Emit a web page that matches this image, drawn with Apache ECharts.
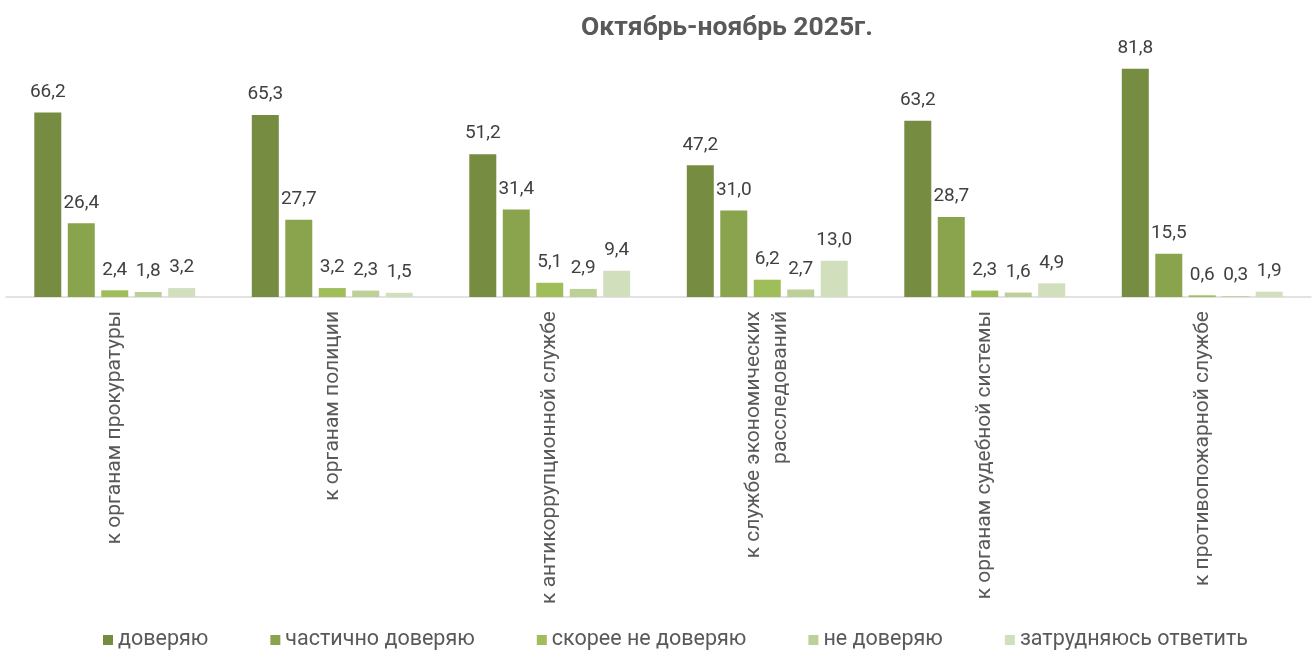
<!DOCTYPE html>
<html>
<head>
<meta charset="utf-8">
<script src="https://cdn.jsdelivr.net/npm/echarts@6/dist/echarts.min.js"></script>
<style>
  html, body { margin: 0; padding: 0; background: #fff; }
  #chart { width: 1315px; height: 657px; }
</style>
</head>
<body>
<div id="chart"></div>
<script>
const categories = [
    'к органам прокуратуры',
    'к органам полиции',
    'к антикоррупционной службе',
    'к службе экономических\nрасследований',
    'к органам судебной системы',
    'к противопожарной службе'
];
const seriesNames = ['доверяю', 'частично доверяю', 'скорее не доверяю', 'не доверяю', 'затрудняюсь ответить'];
const trustValues = [66.2, 65.3, 51.2, 47.2, 63.2, 81.8];
const partlyValues = [26.4, 27.7, 31.4, 31.0, 28.7, 15.5];
const ratherNotValues = [2.4, 3.2, 5.1, 6.2, 2.3, 0.6];
const distrustValues = [1.8, 2.3, 2.9, 2.7, 1.6, 0.3];
const unsureValues = [3.2, 1.5, 9.4, 13.0, 4.9, 1.9];

const colors = ['#758c41', '#8aa44d', '#9fbd58', '#bcd098', '#d1dfbd'];
const allData = [trustValues, partlyValues, ratherNotValues, distrustValues, unsureValues];

const chart = echarts.init(document.getElementById('chart'));

const series = seriesNames.map(function (name, i) {
    return {
        name: name,
        type: 'bar',
        barWidth: 27,
        barGap: '24%',
        itemStyle: { color: colors[i] },
        label: {
            show: true,
            position: 'top',
            distance: 11,
            fontFamily: 'Roboto',
            fontSize: 19,
            color: '#404040',
            formatter: function (p) { return p.value.toFixed(1).replace('.', ','); }
        },
        data: allData[i]
    };
});

chart.setOption({
    animation: false,
    title: {
        text: 'Октябрь-ноябрь 2025г.',
        left: 722,
        top: 10,
        textAlign: 'center',
        textStyle: {
            fontFamily: 'Roboto',
            fontSize: 26.5,
            fontWeight: 'bold',
            color: '#595959'
        }
    },
    legend: {
        data: seriesNames,
        bottom: 1,
        left: 98,
        itemWidth: 10,
        itemHeight: 10,
        itemGap: 62,
        icon: 'rect',
        textStyle: {
            fontFamily: 'Roboto',
            fontSize: 21.5,
            color: '#595959'
        }
    },
    grid: {
        left: 6,
        right: 4,
        top: 46,
        bottom: 360
    },
    xAxis: {
        type: 'category',
        data: categories,
        axisLine: { lineStyle: { color: '#d9d9d9', width: 1.5 } },
        axisTick: { show: false },
        axisLabel: {
            interval: 0,
            rotate: 90,
            margin: 14,
            fontFamily: 'Roboto',
            fontSize: 21,
            lineHeight: 27,
            color: '#595959'
        }
    },
    yAxis: {
        type: 'value',
        min: 0,
        max: 90,
        show: false,
        splitLine: { show: false }
    },
    series: series
});

window.addEventListener('resize', function () {
    chart.resize();
});
</script>
</body>
</html>
